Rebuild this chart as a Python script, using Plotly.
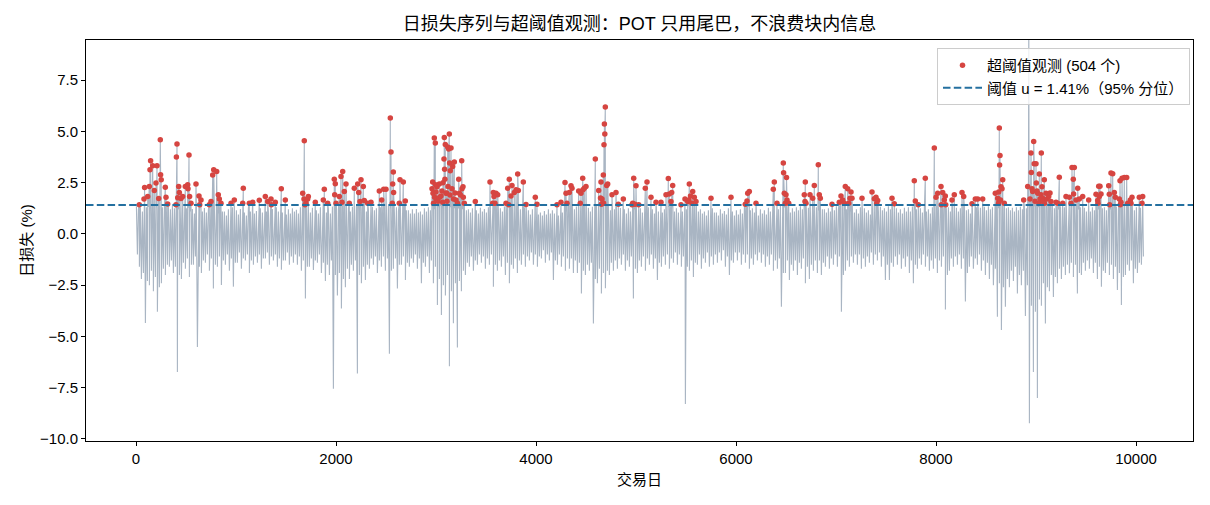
import numpy as np
import plotly.graph_objects as go

# ---------------- data ----------------
BIN_DAYS = 40  # width of one reading bin (trading days)

# highest sub-threshold loss inside each 40-day bin (%)
sub_hi = [
    1.35, 1.30, 1.38, 1.32, 1.36, 1.30, 1.34, 1.28, 1.33, 1.37,
    1.30, 1.25, 1.36, 1.28, 1.22, 1.34, 1.30, 1.26, 1.20, 1.32,
    1.18, 1.25, 1.10, 1.20, 1.30, 1.15, 1.22, 1.05, 1.28, 1.20,
    1.12, 1.25, 1.30, 1.08, 1.22, 1.30, 1.26, 1.14, 1.20, 1.25,
    1.18, 1.30, 1.36, 1.22, 1.28, 1.15, 1.30, 1.25, 1.20, 1.34,
    1.35, 1.30, 1.32, 1.25, 1.33, 1.36, 1.30, 1.28, 1.20, 1.32,
    1.25, 1.30, 1.34, 1.38, 1.22, 1.30, 1.28, 1.30, 1.16, 1.20,
    1.22, 1.10, 1.25, 1.30, 1.35, 1.38, 1.36, 1.40, 1.37, 1.38,
    1.36, 1.34, 1.30, 1.20, 1.25, 1.15, 1.28, 1.22, 1.30, 1.32,
    1.30, 1.25, 1.34, 1.36, 1.30, 1.28, 1.20, 1.30, 1.15, 1.20,
    1.10, 1.05, 1.12, 1.20, 1.15, 1.08, 1.25, 1.30, 1.32, 1.35,
    1.34, 1.36, 1.30, 1.28, 1.33, 1.38, 1.36, 1.37, 1.30, 1.33,
    1.30, 1.26, 1.20, 1.25, 1.35, 1.30, 1.25, 1.32, 1.30, 1.20,
    1.30, 1.25, 1.20, 1.32, 1.30, 1.25, 1.30, 1.34, 1.36, 1.35,
    1.30, 1.20, 1.10, 1.15, 1.25, 1.05, 1.20, 1.12, 1.25, 1.10,
    1.15, 1.20, 1.30, 1.33, 1.25, 1.10, 1.20, 1.15, 1.28, 1.30,
    1.35, 1.36, 1.30, 1.20, 1.25, 1.30, 1.35, 1.33, 1.28, 1.30,
    1.30, 1.34, 1.20, 1.25, 1.30, 1.35, 1.33, 1.34, 1.30, 1.25,
    1.20, 1.30, 1.25, 1.15, 1.28, 1.30, 1.32, 1.25, 1.35, 1.30,
    1.25, 1.20, 1.28, 1.30, 1.34, 1.20, 1.25, 1.30, 1.20, 1.30,
    1.35, 1.33, 1.36, 1.30, 1.34, 1.28, 1.25, 1.30, 1.20, 1.25,
    1.30, 1.28, 1.33, 1.35, 1.30, 1.37, 1.38, 1.36, 1.30, 1.28,
    1.30, 1.33, 1.35, 1.38, 1.40, 1.38, 1.37, 1.36, 1.35, 1.36,
    1.34, 1.35, 1.30, 1.33, 1.36, 1.35, 1.30, 1.28, 1.25, 1.30,
    1.33, 1.36, 1.30, 1.35, 1.37, 1.34, 1.36, 1.38, 1.33, 1.30,
    1.30, 1.28,
]

# lowest loss (largest gain) inside each 40-day bin (%)
sub_lo = [
    -1.00, -2.20, -4.35, -2.50, -2.80, -3.80, -2.40, -2.00, -1.60, -1.90,
    -6.73, -2.20, -1.70, -2.10, -1.50, -5.51, -1.90, -1.40, -1.80, -2.66,
    -1.60, -2.49, -1.50, -1.80, -2.57, -1.40, -1.70, -1.30, -1.90, -1.50,
    -1.40, -1.70, -1.20, -1.50, -1.30, -1.60, -1.75, -1.30, -1.50, -1.40,
    -1.50, -1.80, -3.15, -1.60, -1.76, -1.40, -1.90, -2.30, -2.00, -7.55,
    -3.00, -3.64, -2.60, -2.20, -1.80, -6.81, -2.40, -2.25, -1.70, -1.50,
    -1.90, -1.60, -1.80, -5.84, -1.70, -2.66, -1.50, -2.25, -1.60, -1.40,
    -1.70, -2.40, -1.60, -1.90, -2.40, -3.47, -3.96, -3.00, -6.45, -4.36,
    -5.54, -2.80, -2.00, -1.60, -1.80, -1.50, -1.40, -1.70, -1.50, -2.57,
    -1.80, -1.60, -2.00, -2.41, -1.70, -1.90, -1.50, -1.60, -1.30, -1.50,
    -1.60, -1.20, -1.40, -1.30, -2.25, -1.50, -1.60, -1.80, -1.70, -1.90,
    -1.90, -2.90, -2.00, -1.80, -4.37, -2.40, -2.90, -2.65, -2.00, -1.80,
    -1.70, -1.50, -1.80, -1.60, -3.15, -1.90, -1.60, -1.80, -1.50, -1.70,
    -2.25, -1.60, -1.50, -1.70, -1.40, -1.50, -1.60, -8.30, -1.80, -2.10,
    -1.50, -1.70, -1.40, -1.60, -1.50, -1.40, -1.30, -1.60, -2.00, -1.40,
    -1.30, -1.50, -1.40, -1.70, -1.50, -1.30, -1.40, -1.60, -1.50, -1.80,
    -1.70, -3.55, -1.90, -2.25, -1.80, -2.00, -1.70, -2.40, -2.20, -1.80,
    -1.90, -2.00, -1.60, -1.70, -1.50, -1.60, -3.80, -1.80, -1.60, -1.40,
    -1.50, -1.70, -1.60, -1.40, -1.50, -1.30, -1.60, -2.25, -2.25, -1.60,
    -1.50, -1.70, -1.60, -1.90, -2.40, -1.70, -1.50, -1.60, -1.80, -1.70,
    -1.90, -1.60, -3.68, -1.80, -1.60, -1.50, -1.70, -3.30, -1.60, -1.70,
    -1.50, -1.80, -2.00, -2.20, -2.50, -4.04, -4.69, -3.55, -2.60, -2.30,
    -2.90, -2.50, -4.00, -9.23, -6.73, -8.00, -3.50, -4.37, -2.80, -3.08,
    -2.40, -2.20, -2.00, -1.92, -2.10, -2.90, -2.00, -1.80, -1.70, -1.90,
    -2.20, -2.57, -1.90, -2.00, -2.20, -2.74, -3.47, -2.00, -1.80, -2.40,
    -1.90, -1.50,
]

# typical top of the dense band in the second half of each bin (%)
mid_hi = [
    1.20, 1.10, 1.30, 1.25, 1.20, 1.15, 1.30, 1.10, 1.20, 1.25,
    1.20, 1.10, 1.25, 1.10, 1.00, 1.15, 1.10, 1.05, 1.00, 1.20,
    1.00, 1.10, 0.90, 1.00, 1.10, 0.95, 1.05, 0.90, 1.10, 1.00,
    0.95, 1.05, 1.10, 0.90, 1.00, 1.10, 1.05, 0.95, 1.00, 1.10,
    1.00, 1.10, 1.20, 1.05, 1.10, 1.00, 1.10, 1.05, 1.00, 1.20,
    1.20, 1.15, 1.20, 1.10, 1.20, 1.25, 1.15, 1.10, 1.00, 1.15,
    1.10, 1.15, 1.20, 1.25, 1.05, 1.10, 1.10, 1.15, 1.00, 1.00,
    1.05, 0.95, 1.10, 1.15, 1.20, 1.30, 1.25, 1.30, 1.30, 1.25,
    1.25, 1.20, 1.15, 1.05, 1.10, 1.00, 1.10, 1.05, 1.15, 1.20,
    1.15, 1.10, 1.20, 1.20, 1.10, 1.10, 1.00, 1.10, 0.95, 1.00,
    0.95, 0.90, 0.95, 1.00, 1.00, 0.90, 1.05, 1.10, 1.15, 1.20,
    1.20, 1.25, 1.15, 1.10, 1.20, 1.25, 1.30, 1.25, 1.15, 1.20,
    1.10, 1.05, 1.00, 1.10, 1.20, 1.15, 1.05, 1.15, 1.10, 1.00,
    1.10, 1.05, 1.00, 1.15, 1.10, 1.05, 1.10, 1.20, 1.20, 1.20,
    1.10, 1.00, 0.90, 1.00, 1.05, 0.90, 1.00, 0.95, 1.05, 0.90,
    0.95, 1.00, 1.10, 1.15, 1.05, 0.90, 1.00, 0.95, 1.10, 1.15,
    1.20, 1.25, 1.15, 1.05, 1.10, 1.15, 1.20, 1.15, 1.10, 1.15,
    1.15, 1.20, 1.05, 1.10, 1.15, 1.20, 1.20, 1.20, 1.10, 1.05,
    1.00, 1.10, 1.05, 0.95, 1.10, 1.10, 1.15, 1.10, 1.20, 1.10,
    1.05, 1.00, 1.10, 1.10, 1.20, 1.00, 1.05, 1.10, 1.00, 1.10,
    1.20, 1.15, 1.20, 1.10, 1.15, 1.10, 1.05, 1.15, 1.00, 1.05,
    1.10, 1.10, 1.15, 1.20, 1.15, 1.25, 1.30, 1.25, 1.15, 1.10,
    1.15, 1.20, 1.25, 1.30, 1.35, 1.30, 1.30, 1.25, 1.20, 1.25,
    1.20, 1.20, 1.15, 1.20, 1.25, 1.20, 1.15, 1.10, 1.10, 1.15,
    1.20, 1.25, 1.15, 1.20, 1.25, 1.20, 1.25, 1.30, 1.20, 1.15,
    1.10, 1.05,
]

# typical bottom of the dense band in the second half of each bin (%)
mid_lo = [
    -1.6, -1.9, -2.3, -1.8, -2.1, -2.6, -1.7, -1.5, -1.3, -1.6,
    -2.0, -1.4, -1.2, -1.5, -1.1, -1.6, -1.3, -1.0, -1.2, -1.5,
    -1.1, -1.3, -1.0, -1.2, -1.4, -0.9, -1.2, -1.0, -1.3, -1.1,
    -1.0, -1.2, -0.9, -1.1, -1.0, -1.2, -1.3, -0.9, -1.1, -1.0,
    -1.1, -1.3, -1.6, -1.2, -1.3, -1.0, -1.4, -1.5, -1.3, -2.0,
    -1.9, -2.2, -1.7, -1.5, -1.3, -2.0, -1.6, -1.5, -1.2, -1.1,
    -1.3, -1.1, -1.2, -1.8, -1.2, -1.5, -1.1, -1.4, -1.2, -1.0,
    -1.2, -1.4, -1.1, -1.3, -1.6, -2.2, -2.5, -2.0, -2.8, -2.4,
    -2.3, -1.8, -1.4, -1.1, -1.3, -1.0, -1.1, -1.2, -1.0, -1.5,
    -1.3, -1.1, -1.4, -1.5, -1.2, -1.3, -1.0, -1.1, -0.9, -1.0,
    -1.1, -0.8, -1.0, -0.9, -1.3, -1.0, -1.1, -1.2, -1.2, -1.3,
    -1.4, -1.8, -1.5, -1.4, -2.2, -1.7, -1.9, -1.8, -1.4, -1.3,
    -1.2, -1.0, -1.3, -1.1, -1.7, -1.3, -1.1, -1.2, -1.0, -1.2,
    -1.4, -1.1, -1.0, -1.2, -0.9, -1.0, -1.1, -1.6, -1.3, -1.4,
    -1.0, -1.2, -0.9, -1.1, -1.0, -0.9, -0.8, -1.1, -1.3, -0.9,
    -0.9, -1.0, -1.0, -1.2, -1.0, -0.9, -1.0, -1.1, -1.0, -1.3,
    -1.2, -1.9, -1.3, -1.5, -1.3, -1.4, -1.2, -1.6, -1.5, -1.3,
    -1.3, -1.4, -1.1, -1.2, -1.0, -1.1, -2.0, -1.3, -1.1, -1.0,
    -1.0, -1.2, -1.1, -0.9, -1.0, -0.9, -1.1, -1.5, -1.4, -1.1,
    -1.0, -1.2, -1.1, -1.3, -1.5, -1.2, -1.0, -1.1, -1.3, -1.2,
    -1.3, -1.1, -2.0, -1.2, -1.1, -1.0, -1.2, -1.9, -1.1, -1.2,
    -1.0, -1.3, -1.4, -1.5, -1.7, -2.4, -2.6, -2.2, -1.8, -1.6,
    -2.0, -1.8, -2.5, -3.5, -3.8, -3.2, -2.4, -2.6, -2.0, -2.1,
    -1.7, -1.6, -1.5, -1.4, -1.5, -1.9, -1.4, -1.3, -1.2, -1.4,
    -1.6, -1.8, -1.4, -1.5, -1.6, -1.9, -2.1, -1.5, -1.3, -1.7,
    -1.4, -1.1,
]

# exceedances over the threshold: trading day and loss (%)
exc_day = [
    33, 80, 86, 117, 133, 140, 146, 167, 183, 200, 210, 227, 243, 246, 252, 293, 300, 317, 400, 404, 410, 417, 427, 433, 450, 467, 493,
    517, 520, 530, 536, 550, 600, 630, 637, 650, 733, 750, 767, 777, 807, 823, 833, 850, 950, 983, 1067, 1073, 1133, 1167, 1233, 1293, 1317, 1350, 1353, 1393, 1453, 1493,
    1667, 1680, 1683, 1690, 1700, 1717, 1723, 1793, 1873, 1883, 1917, 1983, 1987, 1993, 2000, 2033, 2050, 2060, 2067, 2083, 2100, 2133, 2183, 2217, 2227, 2240, 2250, 2273, 2283, 2317, 2350, 2433, 2457, 2477,
    2500, 2543, 2550, 2563, 2567, 2573, 2576, 2633, 2640, 2673, 2693, 2960, 2967, 2970, 2975, 2983, 2986, 2993, 2996, 3000, 3003, 3010, 3020, 3033, 3036, 3050, 3060, 3067, 3070, 3080, 3083, 3086, 3089, 3093, 3100, 3105, 3110, 3117, 3120, 3127, 3133, 3136, 3140, 3143, 3150, 3160, 3167, 3175, 3183, 3190, 3200, 3215, 3227, 3233, 3245, 3257, 3260, 3270, 3273, 3283, 3393,
    3540, 3567, 3573, 3580, 3590, 3600, 3617, 3700, 3717, 3727, 3733, 3750, 3760, 3783, 3800, 3817, 3823, 3873, 3900, 3993, 4010, 4210, 4250, 4290, 4300, 4310, 4333, 4350, 4360, 4427, 4443, 4450, 4467, 4470, 4483,
    4500, 4593, 4627, 4645, 4650, 4653, 4660, 4668, 4673, 4676, 4680, 4684, 4688, 4693, 4707, 4717, 4760, 4800, 4823, 4873, 4960, 4967, 4977, 4990, 5000, 5027, 5093, 5110, 5150, 5200, 5250, 5300, 5323, 5333, 5350, 5357, 5367, 5450, 5490,
    5517, 5530, 5533, 5545, 5560, 5567, 5583, 5600, 5750, 5950, 6093, 6110, 6117, 6133, 6200, 6373, 6383, 6410, 6473, 6476, 6483, 6493,
    6500, 6505, 6510, 6527, 6683, 6690, 6693, 6700, 6740, 6767, 6783, 6823, 6833, 6843, 6960, 7033, 7050, 7067, 7083, 7093, 7117, 7127, 7140, 7150, 7160, 7260, 7360, 7383, 7400, 7407, 7417,
    7560, 7583, 7783, 7793, 7823, 7893, 7983, 8000, 8017, 8050, 8053, 8067, 8083, 8093, 8097, 8160, 8183, 8260, 8277, 8360, 8393, 8417, 8467,
    8593, 8617, 8625, 8627, 8630, 8633, 8636, 8640, 8645, 8650, 8660, 8667, 8683, 8877, 8917, 8928, 8940, 8950, 8953, 8960, 8967, 8977, 8982, 8990, 9000, 9003, 9010, 9017, 9030, 9033, 9040, 9050, 9053, 9060, 9067, 9075, 9083, 9085, 9100, 9110, 9127, 9140, 9150, 9200, 9217, 9233, 9267, 9300, 9333, 9350, 9360, 9373, 9376, 9383, 9400, 9417, 9433, 9467,
    9527, 9600, 9617, 9620, 9627, 9633, 9640, 9650, 9727, 9733, 9737, 9750, 9767, 9783, 9793, 9833, 9840, 9843, 9850, 9860, 9883, 9907, 9917, 9943, 9950, 9960, 10033, 10060, 10067,
]
exc_val = [
    1.42, 1.70, 2.27, 1.83, 2.31, 3.13, 3.57, 3.33, 2.12, 2.48, 3.33, 1.73, 4.60, 2.89, 2.64, 2.28, 1.79, 1.46, 1.42, 3.75, 4.39, 1.77, 2.31, 2.02, 1.73, 1.83, 2.31,
    2.40, 2.20, 3.85, 1.83, 1.50, 2.44, 1.85, 1.42, 1.65, 1.42, 1.58, 2.88, 3.13, 3.05, 1.91, 1.70, 1.50, 1.50, 1.66, 1.50, 2.23, 1.50, 1.55, 1.64, 1.83, 1.58, 1.70, 1.42, 1.55, 2.20, 1.66,
    1.98, 1.70, 4.55, 1.42, 1.50, 1.70, 1.83, 1.55, 1.66, 2.18, 1.50, 2.67, 1.91, 2.45, 1.50, 1.83, 2.80, 1.55, 3.05, 2.07, 2.44, 1.50, 2.23, 2.44, 2.02, 1.58, 2.64, 2.31, 1.63, 1.50, 1.55, 2.09, 1.66, 2.18,
    2.18, 5.66, 4.00, 1.50, 2.43, 3.02, 2.02, 1.50, 2.64, 2.53, 1.61, 2.20, 2.53, 1.98, 1.50, 4.68, 1.79, 4.43, 2.40, 2.05, 1.66, 2.30, 1.60, 2.43, 1.79, 1.85, 2.10, 1.55, 2.50, 3.65, 4.71, 3.16, 2.67, 4.36, 1.98, 2.00, 1.60, 4.24, 2.31, 4.14, 4.87, 3.46, 1.90, 3.08, 4.19, 2.20, 3.29, 1.70, 3.51, 2.00, 1.66, 1.50, 2.67, 1.98, 1.90, 3.57, 2.20, 2.30, 1.79, 1.50, 1.58,
    2.53, 1.50, 2.02, 1.83, 1.50, 1.98, 1.91, 1.50, 2.23, 1.42, 2.67, 1.85, 2.36, 2.02, 2.15, 2.92, 2.12, 2.53, 1.43, 1.79, 1.45, 1.42, 1.55, 2.51, 1.98, 1.50, 2.02, 2.35, 2.23, 2.10, 1.50, 1.98, 2.72, 2.15, 2.23,
    2.31, 3.65, 2.12, 1.75, 2.53, 1.45, 1.70, 1.50, 2.88, 1.50, 4.35, 5.36, 4.87, 6.19, 2.36, 2.43, 1.91, 2.02, 1.45, 1.70, 1.42, 1.50, 2.72, 1.45, 2.35, 1.42, 2.23, 2.53, 1.79, 1.55, 1.55, 1.91, 2.70, 1.95, 1.58, 2.02, 2.36, 1.42, 1.70,
    1.58, 1.66, 2.44, 1.85, 1.50, 2.07, 1.79, 1.58, 1.74, 1.79, 1.45, 1.61, 1.98, 2.07, 1.50, 2.18, 2.53, 1.50, 3.46, 2.98, 1.98, 1.50,
    1.91, 2.75, 1.66, 1.50, 1.91, 1.58, 2.53, 1.50, 1.91, 1.74, 2.36, 3.37, 1.91, 1.74, 1.45, 1.55, 1.85, 1.66, 1.50, 2.31, 2.20, 1.50, 1.74, 2.04, 1.74, 1.74, 2.04, 1.72, 1.79, 1.50, 1.63,
    1.74, 1.47, 2.60, 1.61, 1.42, 2.72, 4.19, 1.79, 1.98, 2.31, 1.42, 2.02, 1.66, 1.85, 1.42, 1.66, 1.91, 2.02, 1.83, 1.47, 1.70, 1.70, 1.70,
    1.98, 1.74, 1.50, 2.05, 1.58, 5.17, 3.36, 3.83, 1.66, 2.30, 2.20, 2.64, 1.50, 1.66, 2.31, 10.5, 1.70, 3.95, 3.00, 2.20, 2.07, 4.51, 3.42, 1.60, 3.42, 2.48, 2.10, 1.98, 1.50, 2.92, 1.70, 1.91, 3.95, 2.30, 1.74, 1.60, 2.64, 1.50, 1.98, 1.70, 1.83, 2.00, 1.58, 1.55, 1.50, 2.77, 1.50, 1.83, 1.79, 1.50, 3.24, 2.67, 1.95, 3.24, 1.66, 2.23, 1.70, 1.83,
    1.66, 1.93, 1.63, 1.50, 2.33, 1.83, 2.33, 1.95, 2.35, 1.93, 1.42, 2.97, 2.93, 2.02, 1.79, 1.70, 2.60, 1.42, 1.55, 2.72, 2.75, 2.75, 1.50, 1.66, 1.50, 1.79, 1.79, 1.50, 1.83,
]

threshold_u = 1.41
n_exceed = 504

x_range = [-500, 10570]
y_range = [-10.1, 9.46]
x_ticks = [0, 2000, 4000, 6000, 8000, 10000]
x_ticktext = ["0", "2000", "4000", "6000", "8000", "10000"]
y_ticks = [-10.0, -7.5, -5.0, -2.5, 0.0, 2.5, 5.0, 7.5]
y_ticktext = ["\u221210.0", "\u22127.5", "\u22125.0", "\u22122.5", "0.0", "2.5", "5.0", "7.5"]

title_text = "日损失序列与超阈值观测：POT 只用尾巴，不浪费块内信息"
x_title = "交易日"
y_title = "日损失 (%)"
legend_exc = f"超阈值观测 ({n_exceed} 个)"
legend_thr = f"阈值 u = {threshold_u:.2f}%（95% 分位）"

assert len(sub_hi) == len(sub_lo) == len(mid_hi) == len(mid_lo)
assert len(exc_day) == len(exc_val)

# ---------------- build the daily loss series ----------------
bins = np.arange(len(sub_hi))
days_all = np.concatenate([bins * BIN_DAYS + 4, bins * BIN_DAYS + 14,
                           bins * BIN_DAYS + 24, bins * BIN_DAYS + 34, np.array(exc_day)])
vals_all = np.concatenate([np.array(sub_hi), np.array(sub_lo),
                           np.array(mid_hi), np.array(mid_lo), np.array(exc_val)])
order = np.argsort(days_all, kind="stable")
series_day = days_all[order]
series_val = vals_all[order]

FONT = "Liberation Sans, Noto Sans CJK SC, sans-serif"
FS = 15

fig = go.Figure()
fig.add_trace(go.Scatter(
    x=series_day, y=series_val, mode="lines",
    line=dict(color="#a9b5c3", width=1.1),
    showlegend=False, hoverinfo="skip",
))
fig.add_trace(go.Scatter(
    x=exc_day, y=exc_val, mode="markers",
    marker=dict(color="#d64541", size=5.5, line=dict(width=0)),
    name=legend_exc,
))
fig.add_trace(go.Scatter(
    x=x_range, y=[threshold_u, threshold_u], mode="lines",
    line=dict(color="#2470a0", width=2, dash="7.5px,3.3px"),
    name=legend_thr,
))

axis_common = dict(
    showline=True, linecolor="black", linewidth=1, mirror=True,
    ticks="outside", ticklen=4, tickcolor="black", tickwidth=1,
    showgrid=False, zeroline=False,
    tickfont=dict(family=FONT, size=FS, color="black"),
)

fig.update_layout(
    width=1210, height=505,
    margin=dict(l=86, r=17, t=40, b=64),
    paper_bgcolor="white", plot_bgcolor="white",
    font=dict(family=FONT, size=FS, color="black"),
    title=dict(text=title_text, x=0.5, xref="paper", y=1 - 24 / 505, yref="container",
               xanchor="center", yanchor="middle", font=dict(family=FONT, size=18, color="black")),
    xaxis=dict(range=x_range, tickvals=x_ticks, ticktext=x_ticktext,
               title=dict(text=x_title, standoff=8, font=dict(family=FONT, size=FS)), **axis_common),
    yaxis=dict(range=y_range, tickvals=y_ticks, ticktext=y_ticktext,
               title=dict(text=y_title, standoff=3, font=dict(family=FONT, size=FS)), **axis_common),
    legend=dict(x=0.9973, y=0.98, xanchor="right", yanchor="top",
                bgcolor="rgba(255,255,255,0.8)", bordercolor="#cccccc", borderwidth=1,
                itemwidth=39,
                font=dict(family=FONT, size=FS, color="black"), tracegroupgap=0),
    showlegend=True,
)

fig.write_html("out.html")
